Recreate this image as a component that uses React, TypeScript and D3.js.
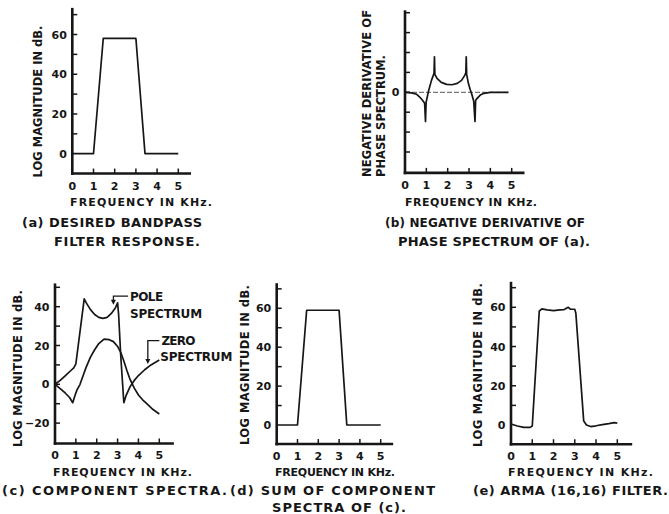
import React from 'react';
import * as d3 from 'd3';

// ---------- data ----------
const freqTicks = [0, 1, 2, 3, 4, 5];
const freqTickLabels = ['0', '1', '2', '3', '4', '5'];

// (a) desired bandpass response
const freqA = [0, 1.0, 1.46, 3.0, 3.43, 5.0];
const magA = [0, 0, 58, 58, 0, 0];

// (b) negative derivative of phase spectrum
const freqB = [0, 0.3, 0.55, 0.7, 0.82, 0.92, 0.96, 0.99, 1.1, 1.24, 1.36, 1.38, 1.4, 1.5, 1.7, 1.95, 2.2, 2.45, 2.65, 2.8, 2.85, 2.87, 2.89, 2.97, 3.05, 3.13, 3.22, 3.28, 3.31, 3.4, 3.55, 3.7, 4.0, 4.85];
const derivB = [0, -0.03, -0.1, -0.25, -0.4, -0.55, -1.47, -0.5, 0.05, 0.6, 0.95, 1.78, 0.9, 0.7, 0.5, 0.4, 0.38, 0.45, 0.6, 0.85, 0.98, 1.78, 0.9, 0.45, 0.15, -0.1, -0.45, -1.47, -0.4, -0.28, -0.12, -0.05, 0, 0];
const refLineB = [0, 4.85];

// (c) component spectra
const freqPole = [0, 0.25, 0.5, 0.8, 0.9, 1.0, 1.4, 1.5, 1.7, 1.9, 2.1, 2.3, 2.5, 2.7, 2.9, 3.0, 3.05, 3.15, 3.3, 3.4, 3.6, 3.8, 4.0, 4.3, 4.6, 5.0];
const magPole = [0, 2, 4.5, 7.5, 8.5, 10.5, 44, 42, 38.5, 36, 34.5, 34, 34.5, 36.5, 39.5, 42, 36, 15, -9.5, -6, -1.2, 2, 4.5, 7.5, 10, 12.5];
const freqZero = [0, 0.25, 0.5, 0.7, 0.85, 0.95, 1.05, 1.2, 1.35, 1.5, 1.7, 1.9, 2.1, 2.35, 2.6, 2.8, 3.0, 3.15, 3.3, 3.45, 3.6, 3.8, 4.0, 4.2, 4.4, 4.7, 5.0];
const magZero = [0, -2.2, -4.6, -6.8, -9.5, -6, -3, 0, 4.5, 9, 14, 17.8, 21, 23.3, 23, 22, 19.5, 16.5, 12, 7, 2.5, -2, -5.5, -8, -10, -13, -15.3];

// (d) sum of component spectra
const freqD = [0, 1.0, 1.44, 3.0, 3.37, 5.0];
const magD = [0, 0, 59, 59, 0, 0];

// (e) ARMA (16,16) filter
const freqE = [0, 0.3, 0.6, 0.9, 1.0, 1.33, 1.45, 1.7, 2.0, 2.3, 2.5, 2.6, 2.7, 2.8, 3.0, 3.05, 3.42, 3.55, 3.75, 4.0, 4.3, 4.6, 4.85, 5.0];
const magE = [0.5, -0.5, -1.2, -1.2, -0.5, 58, 59.2, 58.7, 58.3, 58.7, 58.8, 59.5, 60, 59, 59, 57, 2, 0, -0.8, -0.4, 0.2, 0.7, 1.2, 1];

const dbTicks = [10, 20, 30, 40, 50, 60, 70];
const dbTickLabels = [0, 20, 40, 60];
const compTicks = [-20, -10, 0, 10, 20, 30, 40, 50];
const compTickLabels = [-20, 0, 20, 40];
const derivTicks = [-3, -2, -1, 0, 1, 2, 3, 4];
const derivTickLabels = [0];

// ---------- drawing ----------
const INK = '#161616';
const FONT = '"DejaVu Sans", "Liberation Sans", sans-serif';

type Series = { xs: number[]; ys: number[]; dashed?: boolean };
type TextSpec = { text: string; x: number; y: number; len: number; size?: number };
type PanelSpec = {
  x0: number; x5: number; xMax: number;
  vA: number; pA: number; vB: number; pB: number;
  vBottom: number; vTop: number;
  ticks: number[]; labels: number[];
  series: Series[];
  yTitles: { text: string; cx: number; yStart?: number; yCenter?: number; len: number }[];
  xTitle: TextSpec;
  captions: TextSpec[];
};

const zeroLine = [0, 0];

const panels: PanelSpec[] = [
  {
    x0: 72.3, x5: 178.3, xMax: 5.6,
    vA: 0, pA: 153.7, vB: 60, pB: 34.5, vBottom: -10, vTop: 73.4,
    ticks: dbTicks, labels: dbTickLabels,
    series: [{ xs: freqA, ys: magA }],
    yTitles: [{ text: 'LOG MAGNITUDE IN dB.', cx: 38, yCenter: 101.5, len: 152 }],
    xTitle: { text: 'FREQUENCY IN KHz.', x: 70, y: 206, len: 142 },
    captions: [
      { text: '(a) DESIRED BANDPASS', x: 22, y: 227, len: 180 },
      { text: 'FILTER RESPONSE.', x: 54, y: 245.5, len: 146 },
    ],
  },
  {
    x0: 405, x5: 511.7, xMax: 5.6,
    vA: 0, pA: 92.3, vB: 1, pB: 72.4, vBottom: -4.05, vTop: 4.12,
    ticks: derivTicks, labels: derivTickLabels,
    series: [{ xs: refLineB, ys: zeroLine, dashed: true }, { xs: freqB, ys: derivB }],
    yTitles: [
      { text: 'NEGATIVE DERIVATIVE OF', cx: 366.5, yStart: 177, len: 167 },
      { text: 'PHASE SPECTRUM.', cx: 380.5, yStart: 177, len: 122 },
    ],
    xTitle: { text: 'FREQUENCY IN KHz.', x: 405, y: 205.7, len: 132 },
    captions: [
      { text: '(b) NEGATIVE DERIVATIVE OF', x: 385, y: 227, len: 200, size: 12 },
      { text: 'PHASE SPECTRUM OF (a).', x: 398, y: 245.5, len: 192 },
    ],
  },
  {
    x0: 55, x5: 159.3, xMax: 5.7,
    vA: 0, pA: 384.3, vB: 40, pB: 306.7, vBottom: -30.5, vTop: 52,
    ticks: compTicks, labels: compTickLabels,
    series: [{ xs: freqPole, ys: magPole }, { xs: freqZero, ys: magZero }],
    yTitles: [{ text: 'LOG MAGNITUDE IN dB.', cx: 18, yCenter: 368.5, len: 157 }],
    xTitle: { text: 'FREQUENCY IN KHz.', x: 53, y: 475.7, len: 139 },
    captions: [{ text: '(c) COMPONENT SPECTRA.', x: 2, y: 494.5, len: 225 }],
  },
  {
    x0: 276.7, x5: 380.7, xMax: 5.6,
    vA: 0, pA: 425, vB: 60, pB: 308.3, vBottom: -9.8, vTop: 72.9,
    ticks: dbTicks, labels: dbTickLabels,
    series: [{ xs: freqD, ys: magD }],
    yTitles: [{ text: 'LOG MAGNITUDE IN dB.', cx: 244.5, yCenter: 365, len: 160 }],
    xTitle: { text: 'FREQUENCY IN KHz.', x: 275, y: 475.7, len: 120 },
    captions: [
      { text: '(d) SUM OF COMPONENT', x: 230, y: 494.5, len: 205 },
      { text: 'SPECTRA OF (c).', x: 272, y: 512, len: 134 },
    ],
  },
  {
    x0: 511, x5: 617.3, xMax: 5.7,
    vA: 0, pA: 425, vB: 60, pB: 307.3, vBottom: -9.8, vTop: 73,
    ticks: dbTicks, labels: dbTickLabels,
    series: [{ xs: freqE, ys: magE }],
    yTitles: [{ text: 'LOG MAGNITUDE IN dB.', cx: 477.5, yCenter: 365, len: 164 }],
    xTitle: { text: 'FREQUENCY IN KHz.', x: 508, y: 475.7, len: 145 },
    captions: [{ text: '(e) ARMA (16,16) FILTER.', x: 473, y: 494.5, len: 195 }],
  },
];

function Txt({ t, size = 12 }: { t: TextSpec; size?: number }) {
  return (
    <text x={t.x} y={t.y} fontSize={t.size ?? size} fontWeight="bold" fontFamily={FONT} fill={INK}
      textLength={t.len} lengthAdjust="spacing">{t.text}</text>
  );
}

function Panel({ p }: { p: PanelSpec }) {
  const x = d3.scaleLinear().domain([0, 5]).range([p.x0, p.x5]);
  const y = d3.scaleLinear().domain([p.vA, p.vB]).range([p.pA, p.pB]);
  const line = d3.line<[number, number]>().x(d => x(d[0])).y(d => y(d[1]));
  const axisY = y(p.vBottom);
  return (
    <g>
      {p.series.map((s, i) => (
        <path key={i} d={line(s.xs.map((v, j) => [v, s.ys[j]] as [number, number])) || ''}
          fill="none" stroke={s.dashed ? '#555' : INK} strokeWidth={s.dashed ? 1 : 1.7}
          strokeDasharray={s.dashed ? '5 2' : undefined} strokeLinejoin="round" />
      ))}
      {/* axes */}
      <line x1={x(0)} x2={x(0)} y1={y(p.vTop)} y2={axisY + 1.3} stroke={INK} strokeWidth={2.6} />
      <line x1={x(0) - 1.3} x2={x(p.xMax)} y1={axisY} y2={axisY} stroke={INK} strokeWidth={2.6} />
      {p.ticks.map(t => (
        <line key={'yt' + t} x1={x(0)} x2={x(0) + 5} y1={y(t)} y2={y(t)} stroke={INK} strokeWidth={1.5} />
      ))}
      {freqTicks.slice(1).map(t => (
        <line key={'xt' + t} x1={x(t)} x2={x(t)} y1={axisY} y2={axisY - 5} stroke={INK} strokeWidth={1.5} />
      ))}
      {p.labels.map(t => (
        <text key={'yl' + t} x={x(0) - 5.5} y={y(t) + 4} textAnchor="end" fontSize={11} fontWeight="bold"
          fontFamily={FONT} fill={INK}>{t < 0 ? '\u2212' + Math.abs(t) : String(t)}</text>
      ))}
      {freqTicks.map((t, i) => (
        <text key={'xl' + t} x={x(t)} y={axisY + 16} textAnchor="middle" fontSize={11} fontWeight="bold"
          fontFamily={FONT} fill={INK}>{freqTickLabels[i]}</text>
      ))}
      {p.yTitles.map((yt, i) => {
        const bx = yt.cx + 4.3;
        const by = yt.yStart ?? (yt.yCenter as number);
        return (
          <text key={'ytt' + i} transform={`translate(${bx},${by}) rotate(-90)`} x={yt.yStart !== undefined ? 0 : -yt.len / 2}
            y={0} fontSize={11.5} fontWeight="bold" fontFamily={FONT} fill={INK}
            textLength={yt.len} lengthAdjust="spacing">{yt.text}</text>
        );
      })}
      <Txt t={p.xTitle} size={11} />
      {p.captions.map((c, i) => <Txt key={'c' + i} t={c} size={13} />)}
    </g>
  );
}

// annotation leaders for panel (c), expressed in data coordinates of that panel
const poleLabelAt = { f: 3.6, v: 45.5 };
const poleArrowTo = { f: 2.8, v: 41 };
const zeroLabelAt = { f: 5.1, v: 22.5 };
const zeroArrowTo = { f: 4.45, v: 10.5 };

function Annotations() {
  const p = panels[2];
  const x = d3.scaleLinear().domain([0, 5]).range([p.x0, p.x5]);
  const y = d3.scaleLinear().domain([p.vA, p.vB]).range([p.pA, p.pB]);
  const leader = (lab: { f: number; v: number }, to: { f: number; v: number }) => {
    const lx = x(lab.f) - 2, ly = y(lab.v);
    const tx = x(to.f), ty = y(to.v);
    return `M${lx},${ly} L${tx},${ly} L${tx},${ty - 4}`;
  };
  const head = (to: { f: number; v: number }) => {
    const tx = x(to.f), ty = y(to.v);
    return `M${tx - 2.5},${ty - 5} L${tx + 2.5},${ty - 5} L${tx},${ty} Z`;
  };
  const lbl = (s: string, f: number, v: number, dy: number, len: number) => (
    <text x={x(f)} y={y(v) + dy} fontSize={12} fontWeight="bold" fontFamily={FONT} fill={INK}
      textLength={len} lengthAdjust="spacing">{s}</text>
  );
  return (
    <g>
      <path d={leader(poleLabelAt, poleArrowTo)} fill="none" stroke={INK} strokeWidth={1.3} />
      <path d={head(poleArrowTo)} fill={INK} />
      {lbl('POLE', poleLabelAt.f, poleLabelAt.v, 4.5, 33)}
      {lbl('SPECTRUM', poleLabelAt.f, poleLabelAt.v, 21.5, 72)}
      <path d={leader(zeroLabelAt, zeroArrowTo)} fill="none" stroke={INK} strokeWidth={1.3} />
      <path d={head(zeroArrowTo)} fill={INK} />
      {lbl('ZERO', zeroLabelAt.f, zeroLabelAt.v, 4.5, 34)}
      {lbl('SPECTRUM', zeroLabelAt.f - 0.05, zeroLabelAt.v, 20.5, 72)}
    </g>
  );
}

export default function App() {
  return (
    <svg width={669} height={514} viewBox="0 0 669 514"
      style={{ position: 'absolute', left: 0, top: 0, background: '#fff' }}>
      <rect x={0} y={0} width={669} height={514} fill="#fff" />
      {panels.map((p, i) => <Panel key={i} p={p} />)}
      <Annotations />
    </svg>
  );
}
